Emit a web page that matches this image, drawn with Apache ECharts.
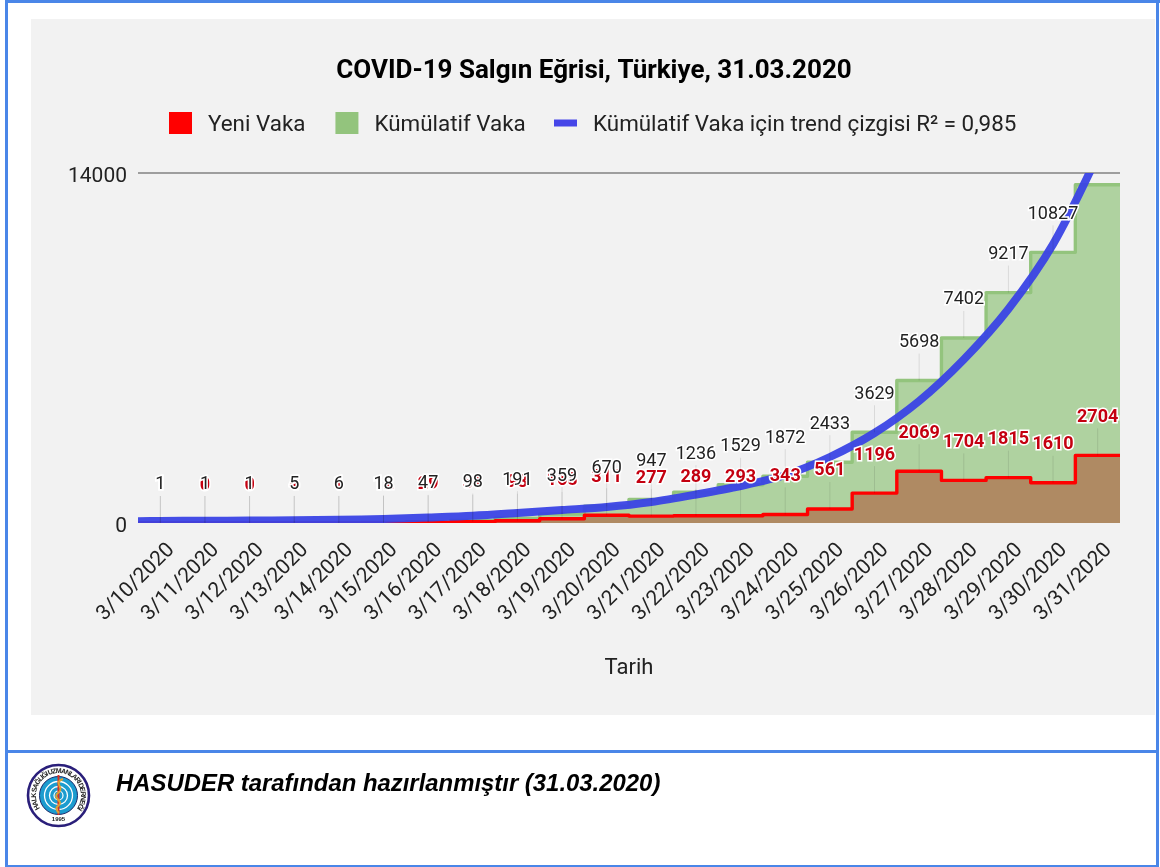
<!DOCTYPE html>
<html>
<head>
<meta charset="utf-8">
<title>COVID-19 Salgın Eğrisi</title>
<script src="https://cdn.jsdelivr.net/npm/echarts@6/dist/echarts.min.js"></script>
<style>
  html, body { margin: 0; padding: 0; background: #fff; }
  body { position: relative; width: 1160px; height: 867px; overflow: hidden; }
  .bar { position: absolute; background: #4a86e8; }
  #panel { position: absolute; left: 31px; top: 19px; width: 1124px; height: 696px; background: #f2f2f2; }
  #chart { position: absolute; left: 0; top: 0; width: 1160px; height: 867px; }
  #logo { position: absolute; left: 26px; top: 763px; width: 65px; height: 65px; }
  #note {
    position: absolute; left: 116px; top: 769px;
    font: italic bold 23.9px "Liberation Sans", Arial, sans-serif; color: #000; white-space: nowrap;
  }
</style>
</head>
<body>
<div class="bar" style="left:5px;top:0;width:1155px;height:3px"></div>
<div class="bar" style="left:5px;top:0;width:3px;height:867px"></div>
<div class="bar" style="left:1156px;top:0;width:3px;height:867px"></div>
<div class="bar" style="left:5px;top:750px;width:1154px;height:3px"></div>
<div class="bar" style="left:5px;top:865px;width:1154px;height:2px"></div>
<div id="panel"></div>
<div id="chart"></div>

<svg id="logo" viewBox="0 0 65 65">
  <defs><path id="ringText" d="M14.07 45.4A22.5 22.5 0 1 1 50.93 45.4"/></defs>
  <circle cx="32.5" cy="32.5" r="30.5" fill="#fff" stroke="#2a1f7a" stroke-width="2.6"/>
  <text font-family="Liberation Sans" font-weight="bold" font-size="7" fill="#222">
    <textPath href="#ringText" textLength="98">HALK SAĞLIĞI UZMANLARI DERNEĞİ</textPath>
  </text>
  <text x="32.5" y="58" text-anchor="middle" font-family="Liberation Sans" font-weight="bold" font-size="6" fill="#222">1995</text>
  <circle cx="32.5" cy="32.5" r="19" fill="#1c9ccf" stroke="#1b2a6b" stroke-width="1"/>
  <circle cx="32.5" cy="32.5" r="14" fill="none" stroke="#fff" stroke-width="1.3"/>
  <circle cx="32.5" cy="32.5" r="9" fill="none" stroke="#fff" stroke-width="1.3"/>
  <circle cx="32.5" cy="32.5" r="4.5" fill="none" stroke="#fff" stroke-width="1.2"/>
  <path d="M32.5 12V52" stroke="#dc3020" stroke-width="2"/>
  <path d="M37 16C26 20 40 25 32 30C25 35 39 38 32 43C29 45 31 48 33 50" fill="none" stroke="#e0a030" stroke-width="2"/>
</svg>
<div id="note">HASUDER tarafından hazırlanmıştır (31.03.2020)</div>

<script>
const dates = ["3/10/2020", "3/11/2020", "3/12/2020", "3/13/2020", "3/14/2020", "3/15/2020", "3/16/2020", "3/17/2020", "3/18/2020", "3/19/2020", "3/20/2020", "3/21/2020", "3/22/2020", "3/23/2020", "3/24/2020", "3/25/2020", "3/26/2020", "3/27/2020", "3/28/2020", "3/29/2020", "3/30/2020", "3/31/2020"];
const newCases = [1, 0, 0, 4, 1, 12, 29, 51, 93, 168, 311, 277, 289, 293, 343, 561, 1196, 2069, 1704, 1815, 1610, 2704];
const cumulative = [1, 1, 1, 5, 6, 18, 47, 98, 191, 359, 670, 947, 1236, 1529, 1872, 2433, 3629, 5698, 7402, 9217, 10827, 13531];
// trend line, one value per day
const trend = [80, 90, 100, 110, 130, 160, 220, 290, 400, 520, 640, 840, 1140, 1480, 1920, 2640, 3600, 4880, 6540, 8560, 11150, 14700];
const trendStart = 70;

const FONT = "Roboto";
const TREND_NAME = "Kümülatif Vaka için trend çizgisi R² = 0,985";

const trendPoints = [[-0.5, trendStart]].concat(trend.map((v, i) => [i, v]));

// Stepped area over the whole band of each day. Custom series on a hidden value
// axis, so the lines are cut exactly at the plot edges (line series overshoot).
const stepSeries = (name, values, color, fill, z) => ({
  name,
  type: "custom",
  xAxisIndex: 1,
  z,
  clip: true,
  silent: true,
  itemStyle: { color },
  data: values.map((v, i) => [i, v]),
  renderItem: (params, api) => {
    if (params.dataIndex !== 0) return null;
    const top = values.flatMap((v, i) => [api.coord([i - 0.5, v]), api.coord([i + 0.5, v])]);
    const base = [api.coord([values.length - 0.5, 0]), api.coord([-0.5, 0])];
    return {
      type: "group",
      children: [
        { type: "polygon", shape: { points: top.concat(base) }, style: { fill } },
        {
          type: "polyline",
          shape: { points: top },
          style: { fill: "none", stroke: color, lineWidth: 3.4, lineJoin: "round" },
        },
      ],
    };
  },
});

// stem plus number above a point
const stemLabel = (color, weight) => (params, api) => {
  const pt = api.coord([api.value(0), api.value(1)]);
  return {
    type: "group",
    children: [
      {
        type: "line",
        shape: { x1: pt[0], y1: pt[1], x2: pt[0], y2: pt[1] - 27 },
        style: { stroke: "rgba(0,0,0,0.1)", lineWidth: 1 },
        silent: true,
      },
      {
        type: "text",
        style: {
          text: String(api.value(1)),
          x: pt[0],
          y: pt[1] - 38,
          align: "center",
          verticalAlign: "middle",
          fill: color,
          stroke: "#fff",
          lineWidth: 3,
          font: `${weight} 18px ${FONT}`,
        },
      },
    ],
  };
};

// legend text sits a little lower than the swatch
const legendText = {
  rich: {
    t: { fontFamily: FONT, fontSize: 22.4, color: "#222", padding: [4, 0, 0, 11] },
  },
};

const chart = echarts.init(document.getElementById("chart"));

chart.setOption({
  animation: false,
  backgroundColor: "transparent",
  textStyle: { fontFamily: FONT },
  title: {
    text: "COVID-19 Salgın Eğrisi, Türkiye, 31.03.2020",
    left: 589,
    top: 53,
    textAlign: "center",
    textStyle: { fontFamily: FONT, fontSize: 26, fontWeight: "bold", color: "#000" },
  },
  legend: [
    {
      left: 169,
      top: 112,
      padding: 0,
      itemWidth: 23,
      itemHeight: 22,
      itemGap: 30,
      itemStyle: { borderWidth: 0 },
      formatter: "{t|{name}}",
      textStyle: legendText,
      data: [
        { name: "Yeni Vaka", icon: "rect" },
        { name: "Kümülatif Vaka", icon: "rect" },
      ],
    },
    {
      left: 554,
      top: 114,
      padding: 0,
      itemWidth: 23,
      itemHeight: 7,
      itemStyle: { borderWidth: 0 },
      formatter: "{t|{name}}",
      textStyle: legendText,
      data: [{ name: TREND_NAME, icon: "rect" }],
    },
  ],
  grid: { left: 138, right: 40, top: 173, bottom: 344 },
  xAxis: [
    {
      type: "category",
      data: dates,
      name: "Tarih",
      nameLocation: "middle",
      nameGap: 134,
      nameTextStyle: { fontFamily: FONT, fontSize: 22, color: "#222" },
      axisLine: { show: false },
      axisTick: { show: false },
      axisLabel: {
        interval: 0, rotate: 45, margin: 13, verticalAlign: "top", padding: [5, 0, 0, 0],
        fontFamily: FONT, fontSize: 21, color: "#222",
      },
    },
    { type: "value", min: -0.5, max: 21.5, show: false },
  ],
  yAxis: {
    type: "value",
    min: 0,
    max: 14000,
    interval: 14000,
    axisLine: { show: false },
    axisTick: { show: false },
    axisLabel: {
      margin: 11, verticalAlign: "top", padding: [-7, 0, 0, 0],
      fontFamily: FONT, fontSize: 21, color: "#222",
      formatter: (v) => String(v),
    },
    splitLine: { lineStyle: { color: ["transparent", "#9e9e9e"], width: 2 } },
  },
  series: [
    stepSeries("Kümülatif Vaka", cumulative, "#93c47d", "rgba(147,196,125,0.7)", 2),
    stepSeries("Yeni Vaka", newCases, "#ff0000", "rgba(176,21,0,0.38)", 3),
    {
      name: TREND_NAME,
      type: "custom",
      xAxisIndex: 1,
      z: 4,
      clip: true,
      silent: true,
      itemStyle: { color: "#4646e8" },
      data: trendPoints,
      renderItem: (params, api) => {
        if (params.dataIndex !== 0) return null;
        return {
          type: "polyline",
          shape: { points: trendPoints.map((p) => api.coord(p)), smooth: 0.3 },
          style: { fill: "none", stroke: "#3a43e5", lineWidth: 8, opacity: 0.95, lineJoin: "round" },
        };
      },
    },
    {
      type: "custom",
      xAxisIndex: 0,
      z: 5,
      clip: false,
      silent: true,
      renderItem: stemLabel("#c40010", "bold"),
      data: newCases.map((v, i) => [i, v]),
    },
    {
      type: "custom",
      xAxisIndex: 0,
      z: 6,
      clip: false,
      silent: true,
      renderItem: stemLabel("#222", "normal"),
      // the last cumulative value has no label in the chart
      data: cumulative.slice(0, -1).map((v, i) => [i, v]),
    },
  ],
});
</script>
</body>
</html>
